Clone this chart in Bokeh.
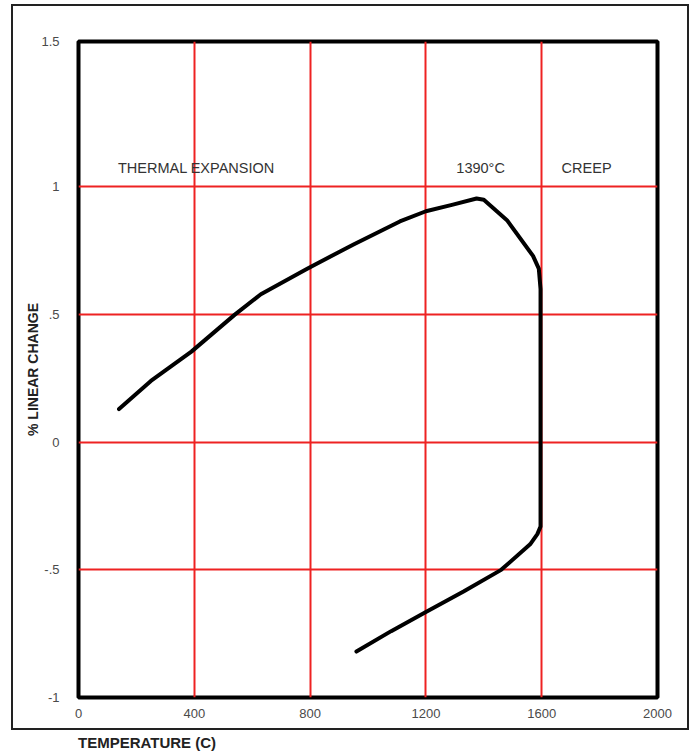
from bokeh.plotting import figure
from bokeh.models import FixedTicker, Range1d, Div
from bokeh.layouts import column
from bokeh.core.properties import value
from bokeh.embed import file_html
from bokeh.resources import INLINE

# data
temperature = [140, 250, 390, 540, 630, 790, 950, 1110, 1200, 1290, 1375, 1400,
               1480, 1570, 1590, 1596, 1596, 1585, 1560, 1460, 1330, 1200, 1080, 960]
linear_change = [0.13, 0.24, 0.355, 0.50, 0.58, 0.68, 0.775, 0.865, 0.905, 0.93, 0.955, 0.95,
                 0.87, 0.73, 0.68, 0.60, -0.33, -0.36, -0.40, -0.50, -0.585, -0.665, -0.74, -0.82]

x_tick_values = [0, 400, 800, 1200, 1600, 2000]
x_grid_values = [400, 800, 1200, 1600]
y_tick_values = [-1, -0.5, 0, 0.5, 1, 1.57]
y_tick_labels = ["-1", "-.5", "0", ".5", "1", "1.5"]
y_grid_values = [-0.5, 0, 0.5, 1]

annotations = ["THERMAL  EXPANSION", "1390°C", "CREEP"]
annotation_x = [414, 1389, 1755]
annotation_y = [1.074, 1.074, 1.074]

FONT = "Liberation Sans"

p = figure(width=678, height=726, output_backend="svg", toolbar_location=None,
           x_range=Range1d(0, 2000), y_range=Range1d(-1, 1.57),
           min_border_left=65, min_border_right=34, min_border_top=35, min_border_bottom=35)
p.styles = {"border": "2px solid #222222", "margin-left": "11px", "margin-top": "4px"}
p.background_fill_color = "white"
p.border_fill_color = "white"
p.outline_line_color = "black"
p.outline_line_width = 4

# grid
p.xgrid.ticker = FixedTicker(ticks=x_grid_values)
p.ygrid.ticker = FixedTicker(ticks=y_grid_values)
for g in (p.xgrid, p.ygrid):
    g.grid_line_color = "#ee2222"
    g.grid_line_width = 2
    g.grid_line_alpha = 1.0

# axes
p.xaxis.ticker = FixedTicker(ticks=x_tick_values)
p.yaxis.ticker = FixedTicker(ticks=y_tick_values)
p.yaxis.major_label_overrides = {v: t for v, t in zip(y_tick_values, y_tick_labels)}
for ax in (p.xaxis, p.yaxis):
    ax.axis_line_color = None
    ax.major_tick_line_color = None
    ax.minor_tick_line_color = None
    ax.major_label_text_font = FONT
    ax.major_label_text_font_size = "13px"
    ax.major_label_text_color = "#4a4a4a"
p.xaxis.major_label_standoff = 5
p.yaxis.major_label_standoff = 13
p.yaxis.axis_label = "% LINEAR CHANGE"
p.yaxis.axis_label_text_font = FONT
p.yaxis.axis_label_text_font_size = "14px"
p.yaxis.axis_label_text_font_style = "bold"
p.yaxis.axis_label_text_color = "#222222"
p.yaxis.axis_label_standoff = -3

# curve
p.line(x=temperature, y=linear_change, line_width=4, line_color="black",
       line_join="round", line_cap="round")

# in-plot annotations
p.text(x=annotation_x, y=annotation_y, text=annotations, text_font=value(FONT),
       text_font_size="14.5px", text_color="#333333", text_align="center",
       text_baseline="middle")

xlabel = Div(text="TEMPERATURE (C)",
             styles={"font-family": FONT, "font-size": "15px", "font-weight": "bold",
                     "line-height": "15px", "color": "#222222",
                     "margin-left": "78px", "margin-top": "5px"})

layout = column(p, xlabel)

open("out.html", "w").write(file_html(layout, INLINE))
